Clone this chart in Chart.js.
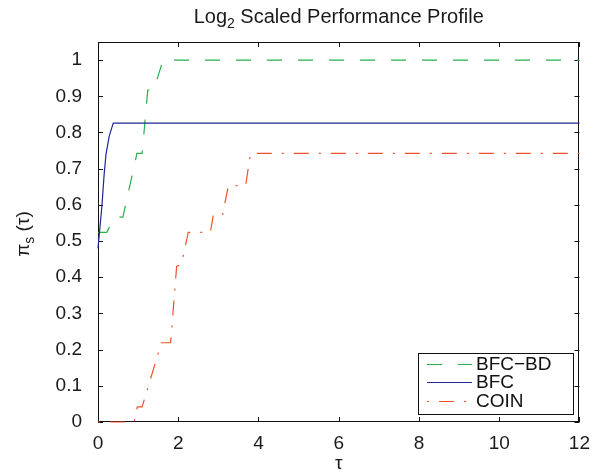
<!DOCTYPE html>
<html>
<head>
<meta charset="utf-8">
<script src="https://cdn.jsdelivr.net/npm/chart.js@4"></script>
<style>
  html, body { margin: 0; padding: 0; background: #fff; }
  #wrap { width: 600px; height: 474px; }
</style>
</head>
<body>
<div id="wrap"><canvas id="profileChart" width="600" height="474"></canvas></div>
<script>
// values
const xTicks = [0, 2, 4, 6, 8, 10, 12];
const yTicks = [0, 0.1, 0.2, 0.3, 0.4, 0.5, 0.6, 0.7, 0.8, 0.9, 1];

const bfcbdTau = [0, 0.22, 0.4, 0.62, 0.97, 1.1, 1.24, 1.39, 1.62, 12];
const bfcbdPi  = [0.524, 0.524, 0.566, 0.566, 0.742, 0.742, 0.917, 0.917, 1.0, 1.0];

const bfcTau = [0, 0.05, 0.1, 0.15, 0.2, 0.28, 0.38, 12];
const bfcPi  = [0.48, 0.54, 0.6, 0.68, 0.74, 0.79, 0.826, 0.826];

const coinTau = [0, 0.9, 0.98, 1.1, 1.58, 1.81, 1.96, 2.08, 2.25, 2.8, 2.87, 3.1, 3.25, 3.68, 3.8, 12];
const coinPi  = [0, 0, 0.042, 0.042, 0.219, 0.219, 0.43, 0.436, 0.524, 0.524, 0.569, 0.569, 0.653, 0.653, 0.742, 0.742];

const GREEN = 'rgb(40,175,75)';
const BLUE = 'rgb(30,40,150)';
const RED = 'rgb(240,80,40)';
const GREEN_DASH = [15, 16];
const RED_DASH = [2, 10, 15, 10];
const FONT = '"Liberation Sans", Arial, sans-serif';

const toPoints = (xs, ys) => xs.map((x, i) => ({ x: x, y: ys[i] }));

// frame and inward ticks go under the lines, text and legend on top
const decor = {
  id: 'decor',
  beforeDatasetsDraw(chart) {
    const ctx = chart.ctx;
    const a = chart.chartArea;
    const sx = chart.scales.x, sy = chart.scales.y;
    ctx.save();
    ctx.strokeStyle = '#111';
    ctx.lineWidth = 1;
    ctx.setLineDash([]);
    ctx.strokeRect(Math.round(a.left) + 0.5, Math.round(a.top) + 0.5,
      Math.round(a.right - a.left) - 1, Math.round(a.bottom - a.top) - 1);
    ctx.beginPath();
    xTicks.forEach(v => {
      const px = Math.round(sx.getPixelForValue(v)) + 0.5;
      ctx.moveTo(px, a.bottom); ctx.lineTo(px, a.bottom - 5);
      ctx.moveTo(px, a.top); ctx.lineTo(px, a.top + 5);
    });
    yTicks.forEach(v => {
      const py = Math.round(sy.getPixelForValue(v)) + 0.5;
      ctx.moveTo(a.left, py); ctx.lineTo(a.left + 5, py);
      ctx.moveTo(a.right, py); ctx.lineTo(a.right - 5, py);
    });
    ctx.stroke();
    ctx.restore();
  },
  afterDraw(chart) {
    const ctx = chart.ctx;
    const a = chart.chartArea;
    ctx.save();
    ctx.fillStyle = '#1a1a1a';
    ctx.textBaseline = 'alphabetic';
    ctx.textAlign = 'left';

    // title with subscript
    const big = '20px ' + FONT, small = '14px ' + FONT;
    ctx.font = big;
    const w1 = ctx.measureText('Log').width;
    const w3 = ctx.measureText(' Scaled Performance Profile').width;
    ctx.font = small;
    const w2 = ctx.measureText('2').width;
    let tx = (a.left + a.right) / 2 - (w1 + w2 + w3) / 2;
    ctx.font = big; ctx.fillText('Log', tx, 23);
    ctx.font = small; ctx.fillText('2', tx + w1, 28);
    ctx.font = big; ctx.fillText(' Scaled Performance Profile', tx + w1 + w2, 23);

    // x label
    ctx.font = '19px ' + FONT;
    ctx.textAlign = 'center';
    ctx.fillText('τ', (a.left + a.right) / 2, 469);

    // y label, rotated, with subscript
    ctx.save();
    ctx.translate(29, 234);
    ctx.rotate(-Math.PI / 2);
    ctx.textAlign = 'left';
    const lb = '19px ' + FONT, ls = '14px ' + FONT;
    ctx.font = lb;
    const p1 = ctx.measureText('π').width;
    const p3 = ctx.measureText(' (τ)').width;
    ctx.font = ls;
    const p2 = ctx.measureText('s').width;
    let ly = -(p1 + p2 + p3) / 2;
    ctx.font = lb; ctx.fillText('π', ly, 0);
    ctx.font = ls; ctx.fillText('s', ly + p1, 5);
    ctx.font = lb; ctx.fillText(' (τ)', ly + p1 + p2, 0);
    ctx.restore();

    // legend
    ctx.fillStyle = '#fff';
    ctx.fillRect(418, 353, 155, 61);
    ctx.strokeStyle = '#111';
    ctx.lineWidth = 1;
    ctx.strokeRect(418.5, 353.5, 155, 61);
    const rows = [
      { label: 'BFC\u2212BD', color: GREEN, dash: GREEN_DASH, y: 364 },
      { label: 'BFC', color: BLUE, dash: [], y: 382 },
      { label: 'COIN', color: RED, dash: RED_DASH, y: 401 }
    ];
    rows.forEach(r => {
      ctx.beginPath();
      ctx.strokeStyle = r.color;
      ctx.lineWidth = 1.2;
      ctx.setLineDash(r.dash);
      ctx.moveTo(427, r.y + 0.5); ctx.lineTo(472, r.y + 0.5);
      ctx.stroke();
      ctx.setLineDash([]);
      ctx.fillStyle = '#111';
      ctx.font = '19px ' + FONT;
      ctx.textBaseline = 'middle';
      ctx.textAlign = 'left';
      ctx.fillText(r.label, 476, r.y + 1);
    });
    ctx.restore();
  }
};

new Chart(document.getElementById('profileChart'), {
  type: 'line',
  data: {
    datasets: [
      { label: 'COIN', data: toPoints(coinTau, coinPi), borderColor: RED, borderDash: RED_DASH, clip: 4 },
      { label: 'BFC', data: toPoints(bfcTau, bfcPi), borderColor: BLUE, clip: 4 },
      { label: 'BFC-BD', data: toPoints(bfcbdTau, bfcbdPi), borderColor: GREEN, borderDash: GREEN_DASH, clip: 4 }
    ]
  },
  options: {
    responsive: false,
    animation: false,
    elements: {
      point: { radius: 0 },
      line: { borderWidth: 1.2, tension: 0, fill: false }
    },
    layout: { padding: { top: 42, right: 20, left: 0, bottom: 0 } },
    plugins: { legend: { display: false }, title: { display: false }, tooltip: { enabled: false } },
    scales: {
      x: {
        type: 'linear', min: 0, max: 12,
        grid: { display: false, drawTicks: false },
        border: { display: false },
        ticks: { font: { size: 19, family: FONT }, color: '#1a1a1a', padding: 10, maxRotation: 0 },
        afterBuildTicks: s => { s.ticks = xTicks.map(v => ({ value: v })); },
        afterFit: s => { s.height = 52; }
      },
      y: {
        type: 'linear', min: 0, max: 1.05,
        grid: { display: false, drawTicks: false },
        border: { display: false },
        ticks: {
          font: { size: 19, family: FONT }, color: '#1a1a1a', padding: 16,
          callback: v => String(+v.toFixed(1))
        },
        afterBuildTicks: s => { s.ticks = yTicks.map(v => ({ value: v })); },
        afterFit: s => { s.width = 98; }
      }
    }
  },
  plugins: [decor]
});
</script>
</body>
</html>
